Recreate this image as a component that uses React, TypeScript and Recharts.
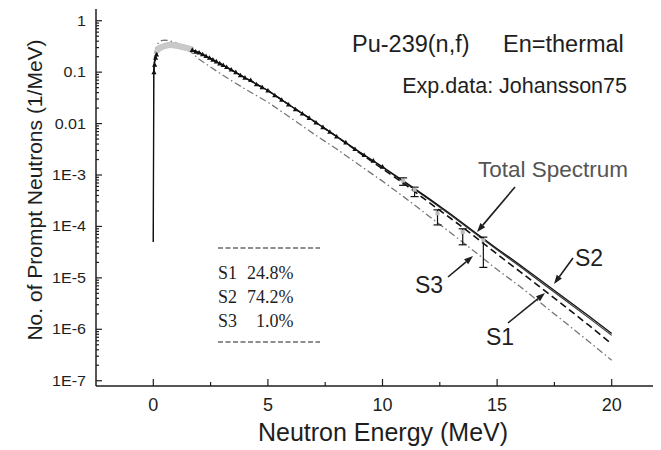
import React from 'react';
import { ComposedChart, Line, Scatter, XAxis, YAxis, ErrorBar } from 'recharts';

// calculated spectra, values (1/MeV)
const totalE = [0, 0.02, 0.05, 0.1, 0.2, 0.4, 0.7, 1, 1.5, 2, 3, 4, 5, 6, 7, 8, 9, 10, 11, 12, 13, 14, 15, 16, 17, 18, 19, 20];
const totalV = [5e-5, 0.1, 0.15, 0.2, 0.26, 0.31, 0.335, 0.325, 0.29, 0.24, 0.14, 0.078, 0.044, 0.022, 0.0112, 0.0056, 0.0028, 0.00145, 7.2e-4, 3.55e-4, 1.7e-4, 7.9e-5, 3.7e-5, 1.78e-5, 8.3e-6, 3.9e-6, 1.82e-6, 8.3e-7];
const s2V = [5e-5, 0.1, 0.15, 0.2, 0.26, 0.31, 0.335, 0.325, 0.29, 0.24, 0.14, 0.078, 0.044, 0.022, 0.0112, 0.0056, 0.0028, 1.42e-3, 7.0e-4, 3.4e-4, 1.62e-4, 7.5e-5, 3.5e-5, 1.66e-5, 7.7e-6, 3.6e-6, 1.67e-6, 7.6e-7];
const s1E = [0.02, 0.05, 0.1, 0.2, 0.4, 0.7, 1, 1.5, 2, 3, 4, 5, 6, 7, 8, 9, 10, 11, 12, 13, 14, 15, 16, 17, 18, 19, 20];
const s1V = [0.1, 0.15, 0.2, 0.26, 0.31, 0.335, 0.325, 0.29, 0.24, 0.14, 0.078, 0.044, 0.022, 0.0112, 0.0056, 2.7e-3, 1.32e-3, 6.5e-4, 3.0e-4, 1.41e-4, 6.5e-5, 2.9e-5, 1.32e-5, 6.0e-6, 2.7e-6, 1.2e-6, 5.2e-7];
const s3E = [0.02, 0.05, 0.1, 0.2, 0.35, 0.5, 0.7, 1, 1.5, 2, 3, 4, 5, 6, 7, 8, 9, 10, 11, 12, 13, 14, 15, 16, 17, 18, 19, 20];
const s3V = [0.12, 0.2, 0.28, 0.36, 0.41, 0.42, 0.41, 0.37, 0.28, 0.178, 0.089, 0.047, 0.026, 0.0129, 6.3e-3, 3.2e-3, 1.55e-3, 7.6e-4, 3.55e-4, 1.62e-4, 7.4e-5, 3.3e-5, 1.45e-5, 6.8e-6, 3.0e-6, 1.32e-6, 5.8e-7, 2.5e-7];

// Johansson75 experimental points
const expLowE = [0.2, 0.25, 0.3, 0.35, 0.4, 0.45, 0.5, 0.55, 0.6, 0.65, 0.7, 0.75, 0.8, 0.85, 0.9, 0.95, 1.0, 1.05, 1.1, 1.15, 1.2, 1.25, 1.3, 1.35, 1.4, 1.45, 1.5, 1.55, 1.6, 1.65];
const expLowV = [0.27, 0.29, 0.295, 0.31, 0.31, 0.32, 0.322, 0.33, 0.328, 0.336, 0.335, 0.34, 0.334, 0.336, 0.33, 0.332, 0.325, 0.326, 0.319, 0.32, 0.312, 0.313, 0.305, 0.304, 0.297, 0.296, 0.29, 0.287, 0.28, 0.278];
const expE = [0.03, 0.06, 0.1, 0.14, 1.7, 1.85, 2.0, 2.15, 2.3, 2.45, 2.6, 2.75, 2.9, 3.05, 3.2, 3.4, 3.6, 3.8, 4.0, 4.25, 4.5, 4.75, 5.0, 5.3, 5.6, 5.9, 6.2, 6.5, 6.8, 7.1, 7.4, 7.7, 8.0, 8.4, 8.8, 9.2, 9.6, 10.0];
const expV = [0.1, 0.14, 0.19, 0.22, 0.27, 0.25, 0.24, 0.222, 0.205, 0.19, 0.175, 0.162, 0.148, 0.137, 0.126, 0.112, 0.1, 0.087, 0.078, 0.07, 0.058, 0.051, 0.044, 0.0355, 0.029, 0.0235, 0.019, 0.0157, 0.0129, 0.0105, 0.0085, 0.0069, 0.0056, 0.0043, 0.0032, 0.00245, 0.0019, 0.00145];
const expTailE = [10.9, 11.4, 12.4, 13.5, 14.4];
const expTailV = [7.8e-4, 5.2e-4, 1.8e-4, 7.8e-5, 5.4e-5];
const expTailErrLow = [1.5e-4, 1.4e-4, 7.3e-5, 3.4e-5, 3.8e-5];
const expTailErrHigh = [1.0e-4, 0.6e-4, 0.3e-4, 1.2e-5, 0.8e-5];

const xMajor = [0, 5, 10, 15, 20];
const xMinor = [2.5, 7.5, 12.5, 17.5];
const yMajor = [1e-7, 1e-6, 1e-5, 1e-4, 1e-3, 0.01, 0.1, 1];
const yLabels = ['1E-7', '1E-6', '1E-5', '1E-4', '1E-3', '0.01', '0.1', '1'];

const yMinor: number[] = [];
yMajor.forEach((m) => {
  for (let k = 2; k <= 9; k++) if (m * k < 1.69) yMinor.push(m * k);
});

const pts = (es: number[], vs: number[]) => es.map((e, i) => ({ e, v: vs[i] }));

const FONT = '"Liberation Sans", Arial, sans-serif';
const INK = '#1e1e1e';
const PLOT_LEFT = 88;
const PLOT_TOP = 1;
const PLOT_BOTTOM = 378;

function YTick(props: any) {
  const { y, payload } = props;
  const i = yMajor.findIndex((m) => Math.abs(Math.log10(m) - Math.log10(payload.value)) < 1e-6);
  const major = i >= 0;
  return (
    <g>
      <line x1={PLOT_LEFT} x2={PLOT_LEFT + (major ? 6 : 3)} y1={y} y2={y} stroke={INK} strokeWidth={1.2} />
      {major && (
        <text transform={`translate(78,${y + 5}) scale(1.15,1)`} textAnchor="end" fontFamily={FONT} fontSize={14} fill={INK}>
          {yLabels[i]}
        </text>
      )}
    </g>
  );
}

function XTick(props: any) {
  const { x, payload } = props;
  const i = xMajor.indexOf(payload.value);
  const major = i >= 0;
  return (
    <g>
      <line x1={x} x2={x} y1={PLOT_BOTTOM} y2={PLOT_BOTTOM - (major ? 7 : 4)} stroke={INK} strokeWidth={1.2} />
      {major && (
        <text x={x} y={403} textAnchor="middle" fontFamily={FONT} fontSize={18} fill={INK}>
          {payload.value}
        </text>
      )}
    </g>
  );
}

function TopTick(props: any) {
  const { x, payload } = props;
  const major = xMajor.indexOf(payload.value) >= 0;
  return <line x1={x} x2={x} y1={PLOT_TOP} y2={PLOT_TOP + (major ? 7 : 4)} stroke={INK} strokeWidth={1.2} />;
}

function Arrow({ x1, y1, x2, y2 }: { x1: number; y1: number; x2: number; y2: number }) {
  const a = Math.atan2(y2 - y1, x2 - x1);
  const L = 9;
  const W = 3.2;
  const bx = x2 - L * Math.cos(a);
  const by = y2 - L * Math.sin(a);
  const px = -Math.sin(a) * W;
  const py = Math.cos(a) * W;
  return (
    <g>
      <line x1={x1} y1={y1} x2={bx} y2={by} stroke={INK} strokeWidth={1.6} />
      <polygon points={`${x2},${y2} ${bx + px},${by + py} ${bx - px},${by - py}`} fill={INK} />
    </g>
  );
}

const triangle = (p: any) => (
  <path d={`M${p.cx - 2.6},${p.cy + 2} L${p.cx + 2.6},${p.cy + 2} L${p.cx},${p.cy - 2.6} Z`} fill="#111" />
);
const grayDot = (p: any) => <circle cx={p.cx} cy={p.cy} r={3} fill="#c9c9c9" />;
const tailDot = (p: any) => <rect x={p.cx - 2} y={p.cy - 2} width={4} height={4} fill="#bbb" />;

export default function App() {
  const tail = expTailE.map((e, i) => ({ e, v: expTailV[i], err: [expTailErrLow[i], expTailErrHigh[i]] }));
  const serif = '"Liberation Serif", "Times New Roman", serif';
  return (
    <div style={{ position: 'relative', width: 653, height: 442, overflow: 'hidden', background: '#fff' }}>
      <ComposedChart width={661} height={442} margin={{ top: 1, right: 0, bottom: 0, left: 0 }}>
        <XAxis
          type="number"
          dataKey="e"
          domain={[-2.5, 22.5]}
          allowDataOverflow
          ticks={[...xMajor, ...xMinor]}
          interval={0}
          height={64}
          tickLine={false}
          axisLine={{ stroke: INK, strokeWidth: 1.5 }}
          tick={(p: any) => <XTick {...p} />}
        />
        <XAxis
          xAxisId="top"
          orientation="top"
          type="number"
          dataKey="e"
          domain={[-2.5, 22.5]}
          allowDataOverflow
          ticks={[...xMajor, ...xMinor]}
          interval={0}
          height={0}
          tickLine={false}
          axisLine={{ stroke: INK, strokeWidth: 1.5 }}
          tick={(p: any) => <TopTick {...p} />}
        />
        <YAxis
          type="number"
          dataKey="v"
          scale="log"
          domain={[7.9e-8, 1.69]}
          allowDataOverflow
          ticks={[...yMajor, ...yMinor]}
          interval={0}
          width={88}
          tickLine={false}
          axisLine={{ stroke: INK, strokeWidth: 1.5 }}
          tick={(p: any) => <YTick {...p} />}
        />
        <Line data={pts(s3E, s3V)} dataKey="v" stroke="#777" strokeWidth={1.3} strokeDasharray="7 3 1.5 3" dot={false} isAnimationActive={false} />
        <Line data={pts(s1E, s1V)} dataKey="v" stroke="#111" strokeWidth={1.6} strokeDasharray="7 4" dot={false} isAnimationActive={false} />
        <Line data={pts(totalE, s2V)} dataKey="v" stroke="#333" strokeWidth={1.1} dot={false} isAnimationActive={false} />
        <Line data={pts(totalE, totalV)} dataKey="v" stroke="#111" strokeWidth={1.3} dot={false} isAnimationActive={false} />
        <Scatter data={pts(expLowE, expLowV)} dataKey="v" shape={grayDot} isAnimationActive={false} />
        <Scatter data={pts(expE, expV)} dataKey="v" shape={triangle} isAnimationActive={false} />
        <Scatter data={tail} dataKey="v" shape={tailDot} isAnimationActive={false}>
          <ErrorBar dataKey="err" direction="y" width={4} stroke="#111" strokeWidth={1.2} />
        </Scatter>
      </ComposedChart>
      <svg width={661} height={450} style={{ position: 'absolute', left: -8, top: -8, pointerEvents: 'none' }}>
        <g fontFamily={FONT} fill={INK}>
          <text x={352} y={52} fontSize={23.5}>Pu-239(n,f)</text>
          <text x={503} y={52} fontSize={23.5}>En=thermal</text>
          <text x={627} y={92.5} fontSize={21.5} textAnchor="end">Exp.data: Johansson75</text>
          <text x={628} y={177} fontSize={22.5} textAnchor="end" fill="#555">Total Spectrum</text>
          <text x={415} y={293} fontSize={23}>S3</text>
          <text x={486} y={345} fontSize={23}>S1</text>
          <text x={575} y={266} fontSize={23}>S2</text>
          <text x={383} y={441} fontSize={25} textAnchor="middle">Neutron Energy (MeV)</text>
          <text transform="translate(42,190) rotate(-90)" fontSize={21} textAnchor="middle">No. of Prompt Neutrons (1/MeV)</text>
        </g>
        <Arrow x1={515} y1={187} x2={477} y2={232} />
        <Arrow x1={448} y1={277} x2={473} y2={256} />
        <Arrow x1={508} y1={323} x2={545} y2={293} />
        <Arrow x1={573} y1={258} x2={554} y2={284} />
        <g fontFamily={serif} fontSize={18} fill={INK}>
          <line x1={218} x2={320} y1={248} y2={248} stroke={INK} strokeWidth={1.2} strokeDasharray="5 2.5" />
          <text x={218} y={279}>S1</text>
          <text x={247} y={279}>24.8%</text>
          <text x={218} y={303}>S2</text>
          <text x={247} y={303}>74.2%</text>
          <text x={218} y={327}>S3</text>
          <text x={256} y={327}>1.0%</text>
          <line x1={218} x2={320} y1={342} y2={342} stroke={INK} strokeWidth={1.2} strokeDasharray="5 2.5" />
        </g>
      </svg>
    </div>
  );
}
